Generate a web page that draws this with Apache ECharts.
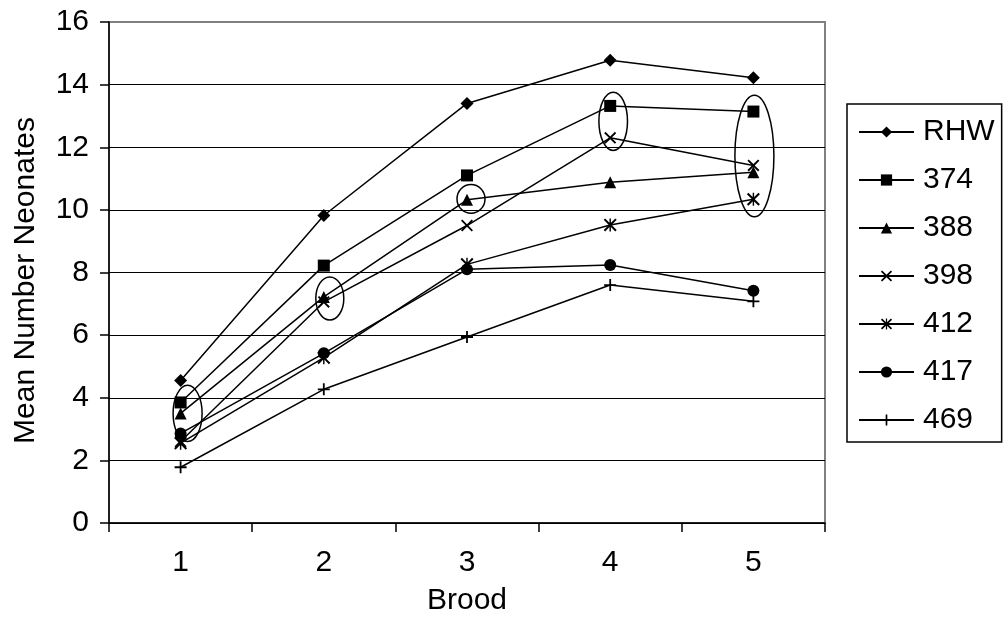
<!DOCTYPE html>
<html>
<head>
<meta charset="utf-8">
<script src="https://cdn.jsdelivr.net/npm/echarts@6/dist/echarts.min.js"></script>
<style>
  html, body { margin: 0; padding: 0; background: #fff; }
  #chart { width: 1003px; height: 631px; }
</style>
</head>
<body>
<div id="chart"></div>
<script>
// values
const broods = ['1', '2', '3', '4', '5'];
const yTicks = [0, 2, 4, 6, 8, 10, 12, 14, 16];
const rhw = [4.55, 9.82, 13.4, 14.78, 14.22];
const s374 = [3.85, 8.22, 11.1, 13.32, 13.14];
const s388 = [3.5, 7.22, 10.32, 10.88, 11.2];
const s398 = [2.6, 7.06, 9.5, 12.3, 11.42];
const s412 = [2.55, 5.28, 8.26, 9.52, 10.34];
const s417 = [2.86, 5.42, 8.1, 8.24, 7.42];
const s469 = [1.78, 4.27, 5.94, 7.6, 7.08];

// hand-drawn ellipses: brood, centre value, half height (value units)
const notes = [
    { brood: '1', mid: 3.5, half: 0.9 },
    { brood: '2', mid: 7.17, half: 0.69 },
    { brood: '3', mid: 10.35, half: 0.46 },
    { brood: '4', mid: 12.83, half: 0.93 },
    { brood: '5', mid: 11.72, half: 1.94 }
];
const noteRx = [14.5, 14, 14, 14.3, 19.5];
const noteDx = [7, 6, 4, 3, 1];

const FONT = 'Liberation Sans, Arial, sans-serif';
const crossPath = 'path://M2.2,0 L10,7.8 L17.8,0 L20,2.2 L12.2,10 L20,17.8 L17.8,20 L10,12.2 L2.2,20 L0,17.8 L7.8,10 L0,2.2 Z';
const starPath = crossPath + ' M8.9,0 L11.1,0 L11.1,20 L8.9,20 Z';
const plusPath = 'path://M8.5,0 L11.5,0 L11.5,8.5 L20,8.5 L20,11.5 L11.5,11.5 L11.5,20 L8.5,20 L8.5,11.5 L0,11.5 L0,8.5 L8.5,8.5 Z';

const seriesDefs = [
    { name: 'RHW', data: rhw, symbol: 'diamond', size: 13 },
    { name: '374', data: s374, symbol: 'rect', size: 12 },
    { name: '388', data: s388, symbol: 'triangle', size: 12 },
    { name: '398', data: s398, symbol: crossPath, size: 12 },
    { name: '412', data: s412, symbol: starPath, size: 13 },
    { name: '417', data: s417, symbol: 'circle', size: 12 },
    { name: '469', data: s469, symbol: plusPath, size: 12 }
];

const chart = echarts.init(document.getElementById('chart'));

chart.setOption({
    animation: false,
    backgroundColor: '#fff',
    textStyle: { fontFamily: FONT },
    grid: {
        left: 109, top: 22, width: 716, height: 501,
        show: true, borderColor: '#808080', borderWidth: 2
    },
    legend: {
        orient: 'vertical',
        left: 847, top: 104,
        padding: [13, 7, 7, 11],
        borderColor: '#000', borderWidth: 1.5,
        itemWidth: 55, itemHeight: 14, itemGap: 18,
        textStyle: { fontFamily: FONT, fontSize: 30, color: '#000', lineHeight: 30, padding: [0, 0, 0, 4] },
        data: seriesDefs.map(s => s.name)
    },
    xAxis: {
        type: 'category',
        data: broods,
        boundaryGap: true,
        name: 'Brood',
        nameLocation: 'middle',
        nameGap: 63,
        nameTextStyle: { fontFamily: FONT, fontSize: 30, color: '#000' },
        axisLine: { lineStyle: { color: '#000', width: 1.5 } },
        axisTick: { show: true, inside: false, length: 9, lineStyle: { color: '#000', width: 1.5 } },
        axisLabel: { fontFamily: FONT, fontSize: 30, color: '#000', margin: 25 },
        splitLine: { show: false }
    },
    yAxis: {
        type: 'value',
        min: yTicks[0],
        max: yTicks[yTicks.length - 1],
        interval: yTicks[1] - yTicks[0],
        name: 'Mean Number Neonates',
        nameLocation: 'middle',
        nameRotate: 90,
        nameGap: 68,
        nameTextStyle: { fontFamily: FONT, fontSize: 30, color: '#000', padding: [0, 16, 0, 0] },
        axisLine: { show: true, lineStyle: { color: '#000', width: 1.5 } },
        axisTick: { show: true, inside: false, length: 9, lineStyle: { color: '#000', width: 1.5 } },
        axisLabel: { fontFamily: FONT, fontSize: 30, color: '#000', margin: 20 },
        splitLine: { show: true, showMaxLine: false, lineStyle: { color: '#000', width: 1.2 } }
    },
    series: seriesDefs.map(s => ({
        name: s.name,
        type: 'line',
        data: s.data,
        symbol: s.symbol,
        symbolSize: s.size,
        showAllSymbol: true,
        lineStyle: { color: '#000', width: 1.5 },
        itemStyle: { color: '#000', borderWidth: 0 }
    }))
});

// ellipses placed through the axes
const ellipses = notes.map((n, i) => {
    const c = chart.convertToPixel({ gridIndex: 0 }, [n.brood, n.mid]);
    const t = chart.convertToPixel({ gridIndex: 0 }, [n.brood, n.mid + n.half]);
    return {
        type: 'ellipse',
        z: 100,
        shape: { cx: c[0] + noteDx[i], cy: c[1], rx: noteRx[i], ry: Math.abs(c[1] - t[1]) },
        style: { fill: 'none', stroke: '#000', lineWidth: 1.5 }
    };
});
chart.setOption({ graphic: ellipses });
</script>
</body>
</html>
